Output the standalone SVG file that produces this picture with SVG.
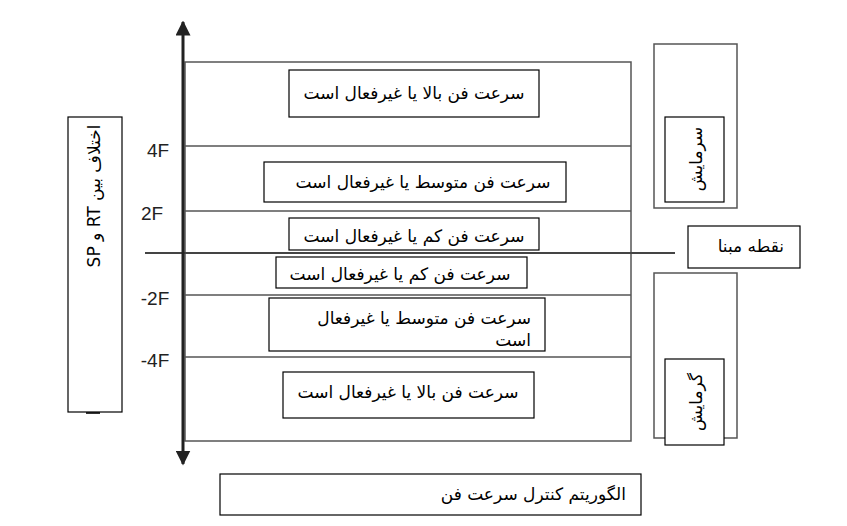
<svg xmlns="http://www.w3.org/2000/svg" width="847" height="526" viewBox="0 0 847 526">
<style>
.b{fill:#fff;stroke:#000;stroke-width:1.2}
.g{fill:none;stroke:#555;stroke-width:1.5}
.t{font-family:"DejaVu Sans",sans-serif;font-size:17px;fill:#000;direction:rtl}
.l{font-family:"Liberation Sans",sans-serif;font-size:19px;fill:#222}
</style>
<defs>
<marker id="ah" viewBox="0 0 10 10" refX="9" refY="5" markerWidth="5" markerHeight="5" orient="auto-start-reverse"><path d="M0,0L10,5L0,10z" fill="#222"/></marker>
</defs>
<rect width="847" height="526" fill="#fff"/>
<g id="connectors">
<rect x="185" y="62" width="446" height="379" class="g"/>
<line x1="185" y1="146" x2="631" y2="146" class="g"/>
<line x1="185" y1="211" x2="631" y2="211" class="g"/>
<line x1="185" y1="295" x2="631" y2="295" class="g"/>
<line x1="185" y1="357" x2="631" y2="357" class="g"/>
<line x1="145" y1="253" x2="675" y2="253" stroke="#444" stroke-width="1.8"/>
<line x1="183" y1="22" x2="183" y2="464" stroke="#222" stroke-width="3" marker-start="url(#ah)" marker-end="url(#ah)"/>
</g>
<g id="labels">
<text x="158" y="157" class="l" text-anchor="middle">4F</text>
<text x="152" y="220" class="l" text-anchor="middle">2F</text>
<text x="155" y="305" class="l" text-anchor="middle">-2F</text>
<text x="155" y="367" class="l" text-anchor="middle">-4F</text>
</g>
<g id="axis-label">
<rect x="86" y="409" width="14" height="5" fill="#333"/>
<rect x="68" y="117" width="54" height="295" class="b"/>
<text class="t" font-size="18" text-anchor="middle" transform="translate(100,196) rotate(-90)">اختلاف بین RT و SP</text>
</g>
<g id="n1"><rect x="289" y="70" width="250" height="47" class="b"/><text x="414" y="99" class="t" text-anchor="middle">سرعت فن بالا یا غیرفعال است</text></g>
<g id="n2"><rect x="264" y="162" width="302" height="40" class="b"/><text x="423" y="188" class="t" text-anchor="middle">سرعت فن متوسط یا غیرفعال است</text></g>
<g id="n3"><rect x="289" y="218" width="250" height="32" class="b"/><text x="414" y="242" class="t" text-anchor="middle">سرعت فن کم یا غیرفعال است</text></g>
<g id="n4"><rect x="276" y="257" width="251" height="31" class="b"/><text x="400" y="280" class="t" text-anchor="middle">سرعت فن کم یا غیرفعال است</text></g>
<g id="n5"><rect x="269" y="298" width="276" height="53" class="b"/><text x="531" y="324" class="t" text-anchor="start">سرعت فن متوسط یا غیرفعال</text><text x="531" y="346" class="t" text-anchor="start">است</text></g>
<g id="n6"><rect x="283" y="372" width="251" height="46" class="b"/><text x="408" y="398" class="t" text-anchor="middle">سرعت فن بالا یا غیرفعال است</text></g>
<g id="n7"><rect x="220" y="474" width="421" height="41" class="b"/><text x="626" y="500" class="t" text-anchor="start">الگوریتم کنترل سرعت فن</text></g>
<g id="cooling"><rect x="654" y="44" width="83" height="164" class="g"/><rect x="665" y="117" width="59" height="85" class="b"/><text class="t" font-size="20" text-anchor="middle" transform="translate(702,159) rotate(-90)">سرمایش</text></g>
<g id="heating"><rect x="654" y="273" width="83" height="165" class="g"/><rect x="665" y="359" width="59" height="86" class="b"/><text class="t" font-size="20" text-anchor="middle" transform="translate(702,402) rotate(-90)">گرمایش</text></g>
<g id="setpoint"><rect x="688" y="226" width="112" height="42" class="b"/><text x="784" y="252" class="t" text-anchor="start">نقطه مبنا</text></g>
</svg>
